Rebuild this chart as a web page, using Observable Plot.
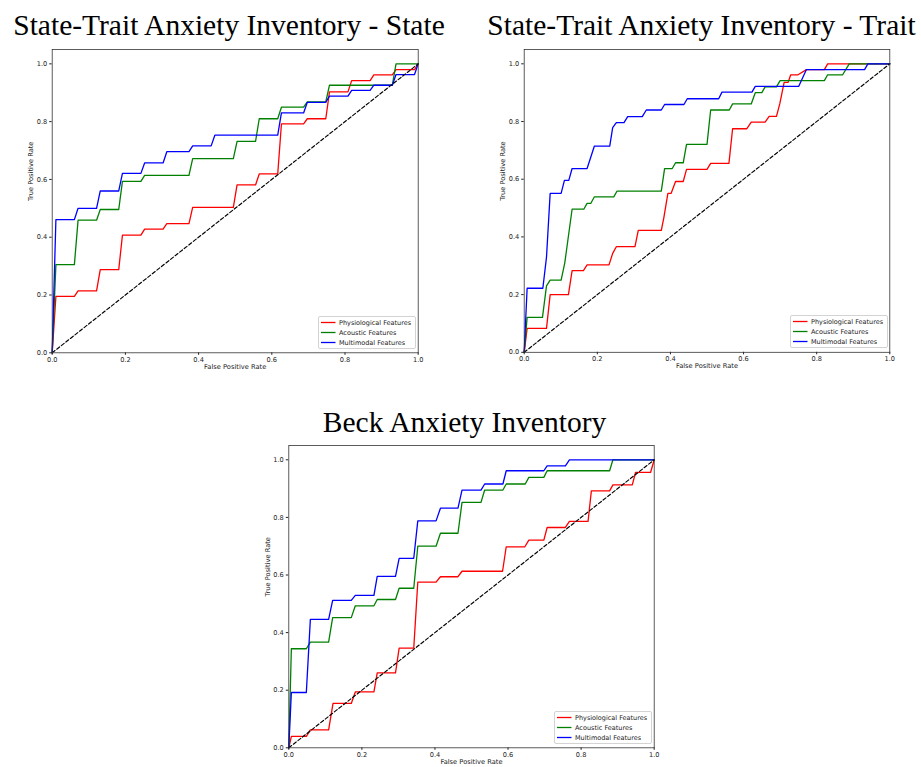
<!DOCTYPE html>
<html><head><meta charset="utf-8">
<script src="https://cdn.jsdelivr.net/npm/d3@7"></script>
<script src="https://cdn.jsdelivr.net/npm/@observablehq/plot@0.6"></script>
<style>
html,body{margin:0;padding:0;background:#fff;}
#page{position:relative;width:921px;height:767px;overflow:hidden;background:#fff;}
.title{position:absolute;font-family:"Liberation Serif","Times New Roman",serif;font-size:29.5px;line-height:30px;white-space:nowrap;color:#000;transform:translateX(-50%);}
.panel{position:absolute;}
.panel svg{overflow:visible;}
.legend{position:absolute;width:98px;height:33px;border:1px solid #d3d3d3;border-radius:2px;background:rgba(255,255,255,0.85);box-sizing:border-box;font-family:"DejaVu Sans",sans-serif;font-size:6.5px;color:#222;}
.legend svg{position:absolute;left:0;top:0;}
.legend .lb{position:absolute;left:20px;line-height:1;white-space:nowrap;transform:translateY(-50%);}
</style></head>
<body><div id="page"></div>
<script>
// ---------- data ----------
const seriesNames = ["Physiological Features", "Acoustic Features", "Multimodal Features"];
const seriesColors = ["#ff0000", "#008000", "#0000ff"];
const titles = ["State-Trait Anxiety Inventory - State", "State-Trait Anxiety Inventory - Trait", "Beck Anxiety Inventory"];
const tickValues = [0, 0.2, 0.4, 0.6, 0.8, 1.0];
const chanceLine = [[0, 0], [1, 1]];

// STAI - State  [FPR, TPR]
const stateRed = [[0,0],[0.0101,0.195],[0.0606,0.195],[0.0707,0.214],[0.1212,0.214],[0.1313,0.288],[0.1818,0.288],[0.1919,0.407],[0.2424,0.407],[0.2525,0.428],[0.3030,0.428],[0.3131,0.447],[0.3737,0.447],[0.3838,0.503],[0.4949,0.503],[0.5051,0.581],[0.5556,0.581],[0.5657,0.619],[0.6162,0.619],[0.6263,0.792],[0.6869,0.792],[0.6970,0.81],[0.7475,0.81],[0.7576,0.903],[0.8081,0.903],[0.8182,0.942],[0.8687,0.942],[0.8788,0.962],[0.9293,0.962],[0.9394,0.98],[0.9899,0.98],[1,1]];
const stateGreen = [[0,0],[0.0101,0.305],[0.0606,0.305],[0.0707,0.459],[0.1212,0.459],[0.1313,0.496],[0.1818,0.496],[0.1919,0.593],[0.2424,0.593],[0.2525,0.614],[0.3737,0.614],[0.3838,0.672],[0.4949,0.672],[0.5051,0.732],[0.5556,0.732],[0.5657,0.81],[0.6162,0.81],[0.6263,0.85],[0.6869,0.85],[0.6970,0.868],[0.7475,0.868],[0.7576,0.926],[0.9293,0.926],[0.9394,1],[1,1]];
const stateBlue = [[0,0],[0.0101,0.461],[0.0606,0.461],[0.0707,0.50],[0.1212,0.50],[0.1313,0.56],[0.1818,0.56],[0.1919,0.621],[0.2424,0.621],[0.2525,0.657],[0.3030,0.657],[0.3131,0.696],[0.3737,0.696],[0.3838,0.716],[0.4343,0.716],[0.4444,0.753],[0.6162,0.753],[0.6263,0.83],[0.6869,0.83],[0.6970,0.867],[0.7475,0.867],[0.7576,0.888],[0.8081,0.888],[0.8182,0.908],[0.8687,0.908],[0.8788,0.926],[0.9293,0.926],[0.9394,0.963],[0.9899,0.963],[1,1]];

// STAI - Trait
const traitRed = [[0,0],[0.008,0.083],[0.061,0.083],[0.071,0.20],[0.121,0.20],[0.131,0.283],[0.162,0.283],[0.172,0.303],[0.232,0.303],[0.242,0.343],[0.252,0.366],[0.303,0.366],[0.312,0.423],[0.375,0.423],[0.382,0.467],[0.393,0.551],[0.402,0.551],[0.414,0.592],[0.435,0.592],[0.444,0.634],[0.5,0.634],[0.51,0.655],[0.56,0.655],[0.57,0.775],[0.609,0.775],[0.621,0.798],[0.659,0.798],[0.67,0.818],[0.69,0.818],[0.699,0.861],[0.711,0.936],[0.722,0.936],[0.729,0.962],[0.749,0.962],[0.772,0.98],[0.821,0.98],[0.83,1],[1,1]];
const traitGreen = [[0,0],[0.008,0.121],[0.050,0.121],[0.061,0.23],[0.071,0.25],[0.101,0.25],[0.111,0.31],[0.131,0.496],[0.163,0.496],[0.172,0.516],[0.182,0.516],[0.192,0.539],[0.245,0.539],[0.254,0.559],[0.375,0.559],[0.384,0.637],[0.405,0.637],[0.414,0.657],[0.435,0.657],[0.444,0.721],[0.5,0.721],[0.51,0.84],[0.561,0.84],[0.57,0.861],[0.621,0.861],[0.632,0.90],[0.65,0.90],[0.659,0.92],[0.69,0.92],[0.70,0.942],[0.821,0.942],[0.83,0.962],[0.871,0.962],[0.889,1],[1,1]];
const traitBlue = [[0,0],[0.008,0.222],[0.051,0.222],[0.061,0.33],[0.071,0.551],[0.101,0.551],[0.110,0.596],[0.122,0.596],[0.131,0.637],[0.172,0.637],[0.192,0.715],[0.234,0.715],[0.242,0.779],[0.252,0.796],[0.273,0.796],[0.283,0.817],[0.323,0.817],[0.334,0.84],[0.375,0.84],[0.384,0.859],[0.437,0.859],[0.446,0.879],[0.532,0.879],[0.541,0.902],[0.623,0.902],[0.632,0.922],[0.751,0.922],[0.772,0.98],[0.931,0.98],[0.94,1],[1,1]];

// Beck Anxiety Inventory
const beckRed = [[0,0],[0.007,0.04],[0.048,0.04],[0.059,0.062],[0.109,0.062],[0.121,0.154],[0.171,0.154],[0.182,0.194],[0.233,0.194],[0.242,0.26],[0.292,0.26],[0.302,0.346],[0.342,0.346],[0.353,0.575],[0.403,0.575],[0.415,0.594],[0.463,0.594],[0.474,0.613],[0.585,0.613],[0.595,0.698],[0.646,0.698],[0.657,0.721],[0.698,0.721],[0.707,0.765],[0.757,0.765],[0.768,0.786],[0.819,0.786],[0.828,0.892],[0.878,0.892],[0.887,0.913],[0.94,0.913],[0.949,0.956],[0.99,0.956],[1,1]];
const beckGreen = [[0,0],[0.007,0.344],[0.048,0.344],[0.059,0.367],[0.109,0.367],[0.12,0.452],[0.171,0.452],[0.182,0.493],[0.233,0.493],[0.242,0.515],[0.292,0.515],[0.302,0.554],[0.342,0.554],[0.353,0.70],[0.403,0.70],[0.415,0.745],[0.463,0.745],[0.474,0.852],[0.526,0.852],[0.536,0.895],[0.586,0.895],[0.595,0.916],[0.647,0.916],[0.657,0.939],[0.698,0.939],[0.707,0.962],[0.878,0.962],[0.887,1],[1,1]];
const beckBlue = [[0,0],[0.007,0.192],[0.048,0.192],[0.059,0.446],[0.109,0.446],[0.12,0.512],[0.171,0.512],[0.182,0.529],[0.233,0.529],[0.242,0.595],[0.292,0.595],[0.302,0.658],[0.342,0.658],[0.353,0.788],[0.403,0.788],[0.415,0.832],[0.463,0.832],[0.474,0.895],[0.526,0.895],[0.536,0.916],[0.586,0.916],[0.595,0.962],[0.698,0.962],[0.707,0.979],[0.757,0.979],[0.768,1],[1,1]];

// ---------- layout ----------
const page = document.getElementById("page");
const panels = [
  {title: titles[0], tx: 229, ty: 10, left: 0, top: 0, w: 460, h: 380, ml: 51.7, mr: 42.3, mt: 48.9, mb: 27.7, curves: [stateRed, stateGreen, stateBlue]},
  {title: titles[1], tx: 701.5, ty: 10, left: 470, top: 0, w: 451, h: 380, ml: 53.7, mr: 31.7, mt: 48.9, mb: 28.2, curves: [traitRed, traitGreen, traitBlue]},
  {title: titles[2], tx: 464.5, ty: 407, left: 230, top: 400, w: 460, h: 367, ml: 58.3, mr: 36.3, mt: 44.9, mb: 19.7, curves: [beckRed, beckGreen, beckBlue]}
];

for (const p of panels) {
  const t = document.createElement("div");
  t.className = "title";
  t.style.left = p.tx + "px";
  t.style.top = p.ty + "px";
  t.textContent = p.title;
  page.appendChild(t);

  const rows = p.curves.flatMap((c, i) => c.map(([fpr, tpr]) => ({fpr, tpr, s: seriesNames[i]})));
  const chart = Plot.plot({
    width: p.w, height: p.h,
    marginLeft: p.ml, marginRight: p.mr, marginTop: p.mt, marginBottom: p.mb,
    style: {fontFamily: "DejaVu Sans, sans-serif", fontSize: "6.6px", color: "#222", background: "transparent"},
    x: {domain: [0, 1], ticks: tickValues, tickFormat: d3.format(".1f"), tickSize: 2.5, tickPadding: 2, label: null},
    y: {domain: [0, 1.05], ticks: tickValues, tickFormat: d3.format(".1f"), tickSize: 2.5, tickPadding: 2.5, label: null},
    color: {domain: seriesNames, range: seriesColors},
    marks: [
      Plot.text(["False Positive Rate"], {frameAnchor: "bottom", dy: 16, fontSize: 6.7, fill: "#222"}),
      Plot.text(["True Positive Rate"], {frameAnchor: "left", rotate: -90, dx: -21, fontSize: 6.7, fill: "#222"}),
      Plot.line(rows, {x: "fpr", y: "tpr", z: "s", stroke: "s", strokeWidth: 1.3}),
      Plot.line(chanceLine, {x: d => d[0], y: d => d[1], stroke: "#000", strokeWidth: 1.15, strokeDasharray: "3.6,2.2"}),
      Plot.frame({stroke: "#333", strokeWidth: 0.8})
    ]
  });
  const holder = document.createElement("div");
  holder.className = "panel";
  holder.style.left = p.left + "px";
  holder.style.top = p.top + "px";
  holder.appendChild(chart);
  page.appendChild(holder);

  // legend (lower right inside axes)
  const axisRight = p.left + p.w - p.mr;
  const axisBottom = p.top + p.h - p.mb;
  const lg = document.createElement("div");
  lg.className = "legend";
  lg.style.left = Math.round(axisRight - 1.5 - 98) + "px";
  lg.style.top = Math.round(axisBottom - 3.5 - 33) + "px";
  const ns = "http://www.w3.org/2000/svg";
  const sv = document.createElementNS(ns, "svg");
  sv.setAttribute("width", 20);
  sv.setAttribute("height", 31);
  seriesNames.forEach((name, i) => {
    const cy = 5.5 + i * 10;
    const ln = document.createElementNS(ns, "line");
    ln.setAttribute("x1", 2); ln.setAttribute("x2", 16.5);
    ln.setAttribute("y1", cy); ln.setAttribute("y2", cy);
    ln.setAttribute("stroke", seriesColors[i]);
    ln.setAttribute("stroke-width", 1.3);
    sv.appendChild(ln);
    const lb = document.createElement("div");
    lb.className = "lb";
    lb.style.top = cy + "px";
    lb.textContent = name;
    lg.appendChild(lb);
  });
  lg.appendChild(sv);
  page.appendChild(lg);
}
</script>
</body></html>
